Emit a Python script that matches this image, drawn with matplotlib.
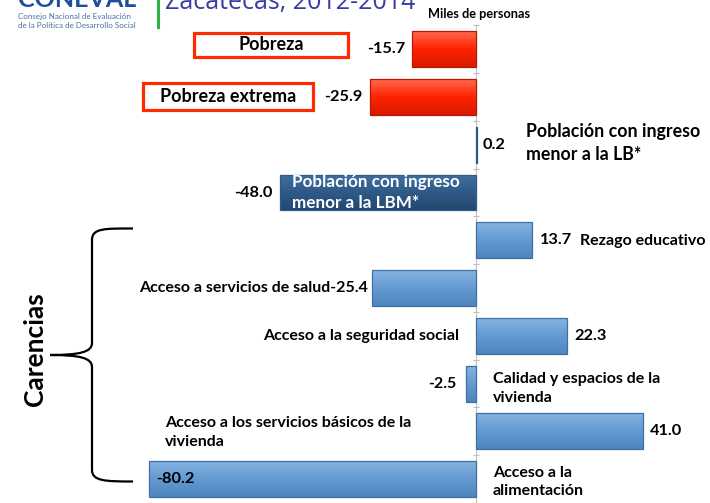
import numpy as np
import matplotlib
matplotlib.use("Agg")
import matplotlib.pyplot as plt
from matplotlib.colors import LinearSegmentedColormap
from matplotlib.patches import Rectangle, PathPatch
from matplotlib.path import Path

W, H, DPI = 710, 503, 100

CATEGORIES = [
    "Pobreza",
    "Pobreza extrema",
    "Población con ingreso\nmenor a la LB*",
    "Población con ingreso\nmenor a la LBM*",
    "Rezago educativo",
    "Acceso a servicios de salud",
    "Acceso a la seguridad social",
    "Calidad y espacios de la\nvivienda",
    "Acceso a los servicios básicos de la\nvivienda",
    "Acceso a la\nalimentación",
]
VALUES = [-15.7, -25.9, 0.2, -48.0, 13.7, -25.4, 22.3, -2.5, 41.0, -80.2]
GROUPS = ["pobreza", "pobreza", "ingreso", "ingreso", "carencia",
          "carencia", "carencia", "carencia", "carencia", "carencia"]

TITLE = "Zacatecas, 2012-2014"
UNITS = "Miles de personas"
BRACE_LABEL = "Carencias"

# (top, middle, bottom) colours for the bevelled bar look
SHADES = {"pobreza": ("#ff6a50", "#ff2200", "#d81a00"),
          "ingreso": ("#41709f", "#2f5a88", "#244870"),
          "carencia": ("#86b3e2", "#6399d1", "#4f86c0")}
EDGE = {"pobreza": "#b81800", "ingreso": "#2f5a88", "carencia": "#3e6fa6"}
FONT = ["Lato", "DejaVu Sans"]
FS = 12
FS_VAL = 11.8

plt.rcParams["font.family"] = FONT

fig = plt.figure(figsize=(W / DPI, H / DPI), dpi=DPI)
ax = fig.add_axes([0, 0, 1, 1])
ax.patch.set_alpha(0)

# 4.08 px per thousand people, zero axis at x=476 px
px = 4.08
x0 = 476
row0, step = 49.5, 48.0

rows = list(range(len(VALUES)))
bars = ax.barh(rows, VALUES, height=0.75, color="none",
               edgecolor=[EDGE[g] for g in GROUPS], linewidth=0.9, zorder=3)

# vertical gradient inside every bar
grad = np.linspace(0, 1, 64).reshape(-1, 1)
for bar, g in zip(bars, GROUPS):
    cmap = LinearSegmentedColormap.from_list(g, SHADES[g])
    bx, by = bar.get_x(), bar.get_y()
    bw, bh = bar.get_width(), bar.get_height()
    im = ax.imshow(grad, cmap=cmap, aspect="auto", zorder=2.5,
                   extent=(bx, bx + bw, by + bh, by), origin="upper",
                   interpolation="bilinear")
    im.set_clip_path(bar)
ax.set_xlim(-x0 / px, (W - x0) / px)
ax.set_ylim((H - row0) / step, -row0 / step)

# zero axis with small tick marks between rows
for s in ["top", "right", "bottom"]:
    ax.spines[s].set_visible(False)
ax.spines["left"].set_position(("data", 0))
ax.spines["left"].set_color("#bfbfbf")
ax.spines["left"].set_bounds(-0.5, len(VALUES))
ax.set_yticks([r - 0.5 for r in rows] + [len(VALUES) - 0.5])
ax.set_yticklabels([])
ax.tick_params(axis="y", direction="inout", length=5, color="#bfbfbf")
ax.set_xticks([])


def put(txt, x, y, dx, dy=0, ha="left", color="black", size=FS):
    ax.annotate(txt, (x, y), xytext=(dx, dy), textcoords="offset pixels",
                ha=ha, va="center", fontsize=size, fontweight="bold",
                color=color, zorder=5, linespacing=1.4)


fmt = lambda v: f"{v:.1f}"

# value labels
put(fmt(VALUES[0]), VALUES[0], 0, -7, ha="right", size=FS_VAL)
put(fmt(VALUES[1]), VALUES[1], 1, -8, ha="right", size=FS_VAL)
put(fmt(VALUES[2]), VALUES[2], 2, 6, ha="left", size=FS_VAL)
put(fmt(VALUES[3]), VALUES[3], 3, -8, ha="right", size=FS_VAL)
put(fmt(VALUES[4]), VALUES[4], 4, 8, ha="left", size=FS_VAL)
put(CATEGORIES[5] + fmt(VALUES[5]), VALUES[5], 5, -4, ha="right", size=11.5)
put(fmt(VALUES[6]), VALUES[6], 6, 7, ha="left", size=FS_VAL)
put(fmt(VALUES[7]), VALUES[7], 7, -9, ha="right", size=11.5)
put(fmt(VALUES[8]), VALUES[8], 8, 7, ha="left", size=FS_VAL)
put(fmt(VALUES[9]), VALUES[9], 9, 7, ha="left", size=FS_VAL)

# category labels
put(CATEGORIES[2], 0, 2, 50, 2, size=12.8)
put(CATEGORIES[3], VALUES[3], 3, 12, 0, color="white", size=12.3)
put(CATEGORIES[4], VALUES[4], 4, 48, -1, size=11.5)
put(CATEGORIES[6], 0, 6, -17, ha="right", size=11.5)
put(CATEGORIES[7], 0, 7, 17, -5, size=11.5)
put(CATEGORIES[8], 0, 8, -311, -1, size=11.5)
put(CATEGORIES[9], 0, 9, 17, -3, size=11.5)

# red outlined boxes for the poverty labels
boxes = [(-69.1, -0.344, 37.7, 0.5), (-81.6, 0.698, 41.7, 0.583)]
for i, (bx, by, bw, bh) in enumerate(boxes):
    ax.add_patch(Rectangle((bx, by), bw, bh, facecolor="white",
                           edgecolor="#ff2a00", linewidth=2.3, zorder=4))
    ax.text(bx + bw / 2, by + bh / 2, CATEGORIES[i], ha="center",
            va="center", fontsize=13, fontweight="bold", zorder=5)

# header: logo remnants, green rule, title, units
fx = lambda p: p / W
fy = lambda p: 1 - p / H
fig.text(fx(18), fy(7), "CONEVAL", fontsize=18, fontweight="bold",
         color="#1f4e9c", va="baseline", ha="left")
fig.text(fx(18), fy(16), "Consejo Nacional de Evaluación", fontsize=5.8,
         color="#4a6fa5", va="center")
fig.text(fx(18), fy(25), "de la Política de Desarrollo Social", fontsize=5.8,
         color="#4a6fa5", va="center")
fig.add_artist(plt.Line2D([fx(158), fx(158)], [fy(0), fy(27)],
                          color="#2db34a", linewidth=2.2))
fig.text(fx(165), fy(9.5), TITLE, fontsize=18, color="#3a3aa3",
         va="baseline", ha="left", family=["Open Sans", "DejaVu Sans"])
fig.text(fx(428), fy(14), UNITS, fontsize=9.2, fontweight="bold",
         va="center", ha="left")

# curly brace grouping the "carencias" rows
verts = [(133, 228.5), (105, 228.5), (92, 228), (92, 240),
         (92, 343), (92, 352), (80, 355), (50, 355),
         (80, 355), (92, 358), (92, 367),
         (92, 470), (92, 481), (105, 481.5), (133, 481.5)]
codes = [Path.MOVETO, Path.CURVE4, Path.CURVE4, Path.CURVE4,
         Path.LINETO, Path.CURVE4, Path.CURVE4, Path.CURVE4,
         Path.CURVE4, Path.CURVE4, Path.CURVE4,
         Path.LINETO, Path.CURVE4, Path.CURVE4, Path.CURVE4]
verts = [(fx(a), fy(b)) for a, b in verts]
fig.add_artist(PathPatch(Path(verts, codes), facecolor="none",
                         edgecolor="black", linewidth=1.6,
                         transform=fig.transFigure))
fig.text(fx(35), fy(349), BRACE_LABEL, rotation=90, fontsize=19,
         fontweight="bold", ha="center", va="center")

fig.savefig("out.png", dpi=DPI)
